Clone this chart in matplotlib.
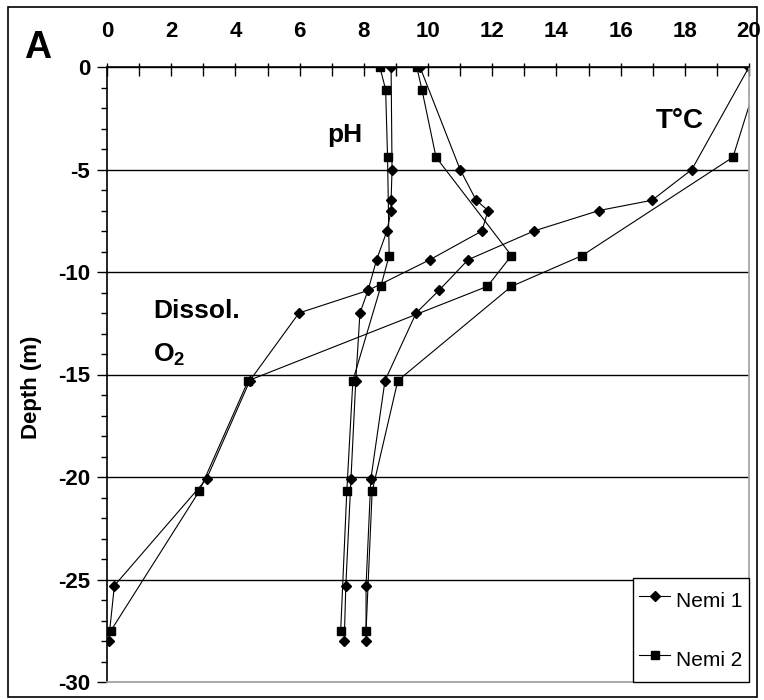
import matplotlib
matplotlib.use("Agg")
import matplotlib.pyplot as plt
from matplotlib.ticker import MultipleLocator, FuncFormatter
from matplotlib.patches import Rectangle

plt.rcParams['font.family'] = ['Liberation Sans', 'DejaVu Sans']
plt.rcParams['mathtext.fontset'] = 'custom'
plt.rcParams['mathtext.rm'] = 'Liberation Sans:bold'
plt.rcParams['axes.unicode_minus'] = False

# Nemi 1 profile (diamonds)
depth1 = [0, -5, -6.5, -7, -8, -9.4, -10.9, -12, -15.3, -20.1, -25.3, -28]
do1 = [9.75, 11.0, 11.5, 11.87, 11.68, 10.06, 8.13, 5.98, 4.45, 3.1, 0.23, 0.05]
ph1 = [8.85, 8.88, 8.85, 8.85, 8.72, 8.4, 8.13, 7.88, 7.75, 7.6, 7.44, 7.39]
temp1 = [20.0, 18.22, 16.98, 15.33, 13.3, 11.25, 10.34, 9.63, 8.66, 8.22, 8.07, 8.07]

# Nemi 2 profile (squares)
depth2 = [0, -1.1, -4.4, -9.2, -10.7, -15.3, -20.7, -27.5]
do2 = [9.65, 9.81, 10.25, 12.6, 11.85, 4.4, 2.87, 0.12]
ph2 = [8.5, 8.68, 8.74, 8.79, 8.53, 7.66, 7.47, 7.28]
temp2 = [20.25, 20.16, 19.5, 14.8, 12.6, 9.06, 8.26, 8.07]

labels = ["Nemi 1", "Nemi 2"]

W, H = 764, 700
fig = plt.figure(figsize=(W / 100, H / 100), dpi=100)
ax = fig.add_axes([107 / W, 1 - 682 / H, 642 / W, 615 / H])

style1 = dict(color='black', lw=0.8, marker='D', ms=5)
style2 = dict(color='black', lw=0.8, marker='s', ms=5.5)

l1, = ax.plot(do1, depth1, **style1)
l2, = ax.plot(do2, depth2, **style2)
ax.plot(ph1, depth1, **style1)
ax.plot(ph2, depth2, **style2)
ax.plot(temp1, depth1, **style1)
ax.plot(temp2, depth2, **style2)

ax.set_xlim(0, 20)
ax.set_ylim(-30, 0)

# top x axis
ax.xaxis.set_ticks_position('top')
ax.xaxis.set_major_locator(MultipleLocator(1))
ax.xaxis.set_minor_locator(MultipleLocator(1))
ax.xaxis.remove_overlapping_locs = False
ax.xaxis.set_major_formatter(FuncFormatter(lambda v, p: f"{v:g}" if round(v) % 2 == 0 else ""))
ax.tick_params(axis='x', which='major', direction='in', length=6.5, width=1,
               pad=18, labelsize=16)
ax.tick_params(axis='x', which='minor', direction='out', length=3, width=1)

# y axis
ax.yaxis.set_major_locator(MultipleLocator(5))
ax.yaxis.set_minor_locator(MultipleLocator(1))
ax.tick_params(axis='y', which='major', direction='out', length=7, width=1,
               pad=5, labelsize=16)
ax.tick_params(axis='y', which='minor', direction='out', length=4.5, width=1)
for lab in ax.get_xticklabels() + ax.get_yticklabels():
    lab.set_fontweight('bold')

ax.yaxis.grid(True, which='major', color='black', lw=1.0)
ax.set_axisbelow(True)

ax.spines['top'].set_color('black')
ax.spines['left'].set_color('black')
ax.spines['bottom'].set_color('#a0a0a0')
ax.spines['right'].set_color('#a0a0a0')
for s in ax.spines.values():
    s.set_linewidth(1.2)

ax.text(7.41, -3.3, 'pH', ha='center', va='center', fontsize=19, weight='bold')
ax.text(17.85, -2.65, 'T\u00b0C', ha='center', va='center', fontsize=20, weight='bold')
ax.text(1.43, -11.9, 'Dissol.', ha='left', va='center', fontsize=19, weight='bold')
ax.text(1.43, -14.05, r'O$_\mathrm{2}$', ha='left', va='center', fontsize=19, weight='bold')

leg = ax.legend([l1, l2], labels, loc='lower right', bbox_to_anchor=(1, 0),
                borderaxespad=0, fontsize=15, frameon=True, fancybox=False,
                edgecolor='black', framealpha=1, borderpad=0.3,
                handlelength=1.5, handletextpad=0.3, handleheight=2.0,
                labelspacing=1.3)
leg.get_frame().set_linewidth(1.0)

fig.text(37.5 / W, 1 - 48 / H, 'A', fontsize=27, weight='bold', ha='center', va='center')
fig.text(32 / W, 1 - 387 / H, 'Depth (m)', rotation=90, ha='center', va='center',
         fontsize=16, weight='bold')

fig.patches.append(Rectangle((8 / W, 3 / H), 749 / W, 690 / H, transform=fig.transFigure,
                             fill=False, ec='black', lw=1.2))

fig.savefig('out.png', dpi=100)
